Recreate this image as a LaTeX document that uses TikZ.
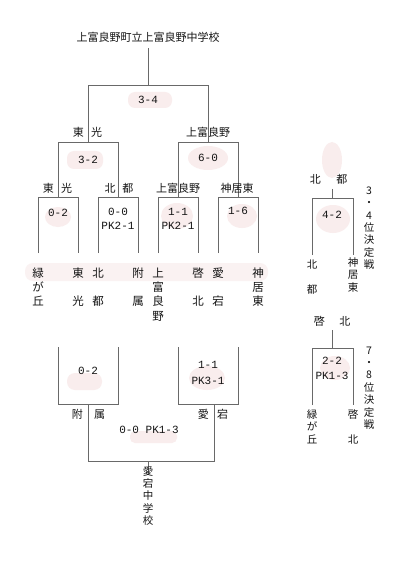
\documentclass[tikz,border=0pt]{standalone}
\usepackage{fontspec}
\newfontfamily\jp{Noto Sans CJK JP}
\newfontfamily\num{Liberation Mono}
\definecolor{ln}{RGB}{105,105,105}
\definecolor{hlp}{RGB}{249,237,237}
\definecolor{txt}{RGB}{20,20,20}
\begin{document}
\begin{tikzpicture}[x=1pt,y=-1pt,
  br/.style={draw=ln,line width=0.9pt},
  lbl/.style={font=\jp\fontsize{11}{13}\selectfont,inner sep=0,text=txt},
  sc/.style={font=\num\fontsize{11}{15}\selectfont,inner sep=0,align=center,text=txt},
  vt/.style={font=\jp\fontsize{11.5}{14.3}\selectfont,inner sep=0,align=center,anchor=north,text=txt},
  vs/.style={font=\jp\fontsize{10.5}{12.4}\selectfont,inner sep=0,align=center,anchor=north,text=txt},
  hl/.style={fill=hlp,draw=none}]
\useasboundingbox (0,0) rectangle (400,561);
\fill[white] (0,0) rectangle (400,561);
% highlighter marks
\fill[hl,rounded corners=7pt] (128,92) rectangle (172,108);
\fill[hl,rounded corners=7pt] (67,151) rectangle (103,169);
\fill[hl] (208,158) ellipse (20 and 12);
\fill[hl] (58,217) ellipse (13 and 10);
\fill[hl] (177,216) ellipse (16 and 13);
\fill[hl] (242,216) ellipse (15 and 12);
\fill[hl,fill=hlp!75,rounded corners=8pt] (25,263) rectangle (268,281);
\fill[hl] (332,160) ellipse (10 and 18);
\fill[hl] (333,219) ellipse (17 and 14);
\fill[hl] (335,368) ellipse (15 and 12);
\fill[hl,rounded corners=8pt] (67,373) rectangle (102,390);
\fill[hl] (207,378) ellipse (18 and 12);
\fill[hl,rounded corners=5pt] (130,431) rectangle (177,443);
% titles
\node[lbl] (title) at (148,37) {上富良野町立上富良野中学校};
\coordinate (t0) at (148,48);
\coordinate (f) at (148,85);
% final
\draw[br] (f) -- (t0);
\draw[br] (88,142) -- (88,85) -- (208,85) -- (208,142);
% semis
\draw[br] (58,197) -- (58,142) -- (118,142) -- (118,197);
\draw[br] (178,197) -- (178,142) -- (238,142) -- (238,197);
% first round
\draw[br] (38,253) -- (38,197) -- (78,197) -- (78,253);
\draw[br] (98,253) -- (98,197) -- (138,197) -- (138,253);
\draw[br] (158,253) -- (158,197) -- (198,197) -- (198,253);
\draw[br] (218,253) -- (218,197) -- (258,197) -- (258,253);
% consolation (bottom)
\draw[br] (58,347) -- (58,404) -- (118,404) -- (118,347);
\draw[br] (178,347) -- (178,404) -- (238,404) -- (238,347);
\draw[br] (88,404) -- (88,461) -- (214,461) -- (214,404);
\draw[br] (148,461) -- (148,474);
% right side
\draw[br] (332,189) -- (332,198);
\draw[br] (312,255) -- (312,198) -- (353,198) -- (353,255);
\draw[br] (332,330) -- (332,348);
\draw[br] (312,405) -- (312,348) -- (353,348) -- (353,405);
% scores
\node[sc] (s34) at (148,100) {3-4};
\node[sc] (s32) at (88,160) {3-2};
\node[sc] (s60) at (208,158) {6-0};
\node[sc] (s02a) at (58,213) {0-2};
\node[sc,font=\num\fontsize{11}{14.3}\selectfont] (s00) at (118,219) {0-0\\PK2-1};
\node[sc,font=\num\fontsize{11}{14.3}\selectfont] (s11) at (178,219) {1-1\\PK2-1};
\node[sc] (s16) at (238,211) {1-6};
\node[sc] (s42) at (332,215) {4-2};
\node[sc] (s22) at (332,368.5) {2-2\\PK1-3};
\node[sc] (s02b) at (88,371) {0-2};
\node[sc,font=\num\fontsize{11}{16}\selectfont] (s11b) at (208,373) {1-1\\PK3-1};
\node[sc] (s00b) at (149,430) {0-0 PK1-3};
% winner labels
\node[lbl] (wl1) at (87.5,132) {東\hspace{7.5pt}光};
\node[lbl] (wr1) at (208,132) {上富良野};
\node[lbl] (wa) at (57.5,188) {東\hspace{7.5pt}光};
\node[lbl] (wb) at (119,188) {北\hspace{7pt}都};
\node[lbl] (wc) at (178,188) {上富良野};
\node[lbl] (wd) at (237,188) {神居東};
\node[lbl] (w34) at (328.5,179) {北\hspace{15.5pt}都};
\node[lbl] (w78) at (332,321) {啓\hspace{14.5pt}北};
\node[lbl] (wx) at (88.5,414) {附\hspace{11.5pt}属};
\node[lbl] (wy) at (213,414) {愛\hspace{8.5pt}宕};
% team names
\node[vt] (n1) at (38,267.5) {緑\\が\\丘};
\node[vt] (n2) at (78,267.5) {東\\\mbox{}\\光};
\node[vt] (n3) at (98,267.5) {北\\\mbox{}\\都};
\node[vt] (n4) at (138,267.5) {附\\\mbox{}\\属};
\node[vt] (n5) at (158,267.5) {上\\富\\良\\野};
\node[vt] (n6) at (198,267.5) {啓\\\mbox{}\\北};
\node[vt] (n7) at (218,267.5) {愛\\\mbox{}\\宕};
\node[vt] (n8) at (258,267.5) {神\\居\\東};
% right side names
\node[vs] (r1) at (312,259.5) {北\\\mbox{}\\都};
\node[vs] (r2) at (353,257.5) {神\\居\\東};
\node[vs] (r3) at (312,409.5) {緑\\が\\丘};
\node[vs] (r4) at (353,409.5) {啓\\\mbox{}\\北};
\node[vs] (c34) at (369,186.5) {3\\・\\4\\位\\決\\定\\戦};
\node[vs] (c78) at (369,346.5) {7\\・\\8\\位\\決\\定\\戦};
% champion
\node[vs] (champ) at (148,466) {愛\\宕\\中\\学\\校};
\end{tikzpicture}
\end{document}
